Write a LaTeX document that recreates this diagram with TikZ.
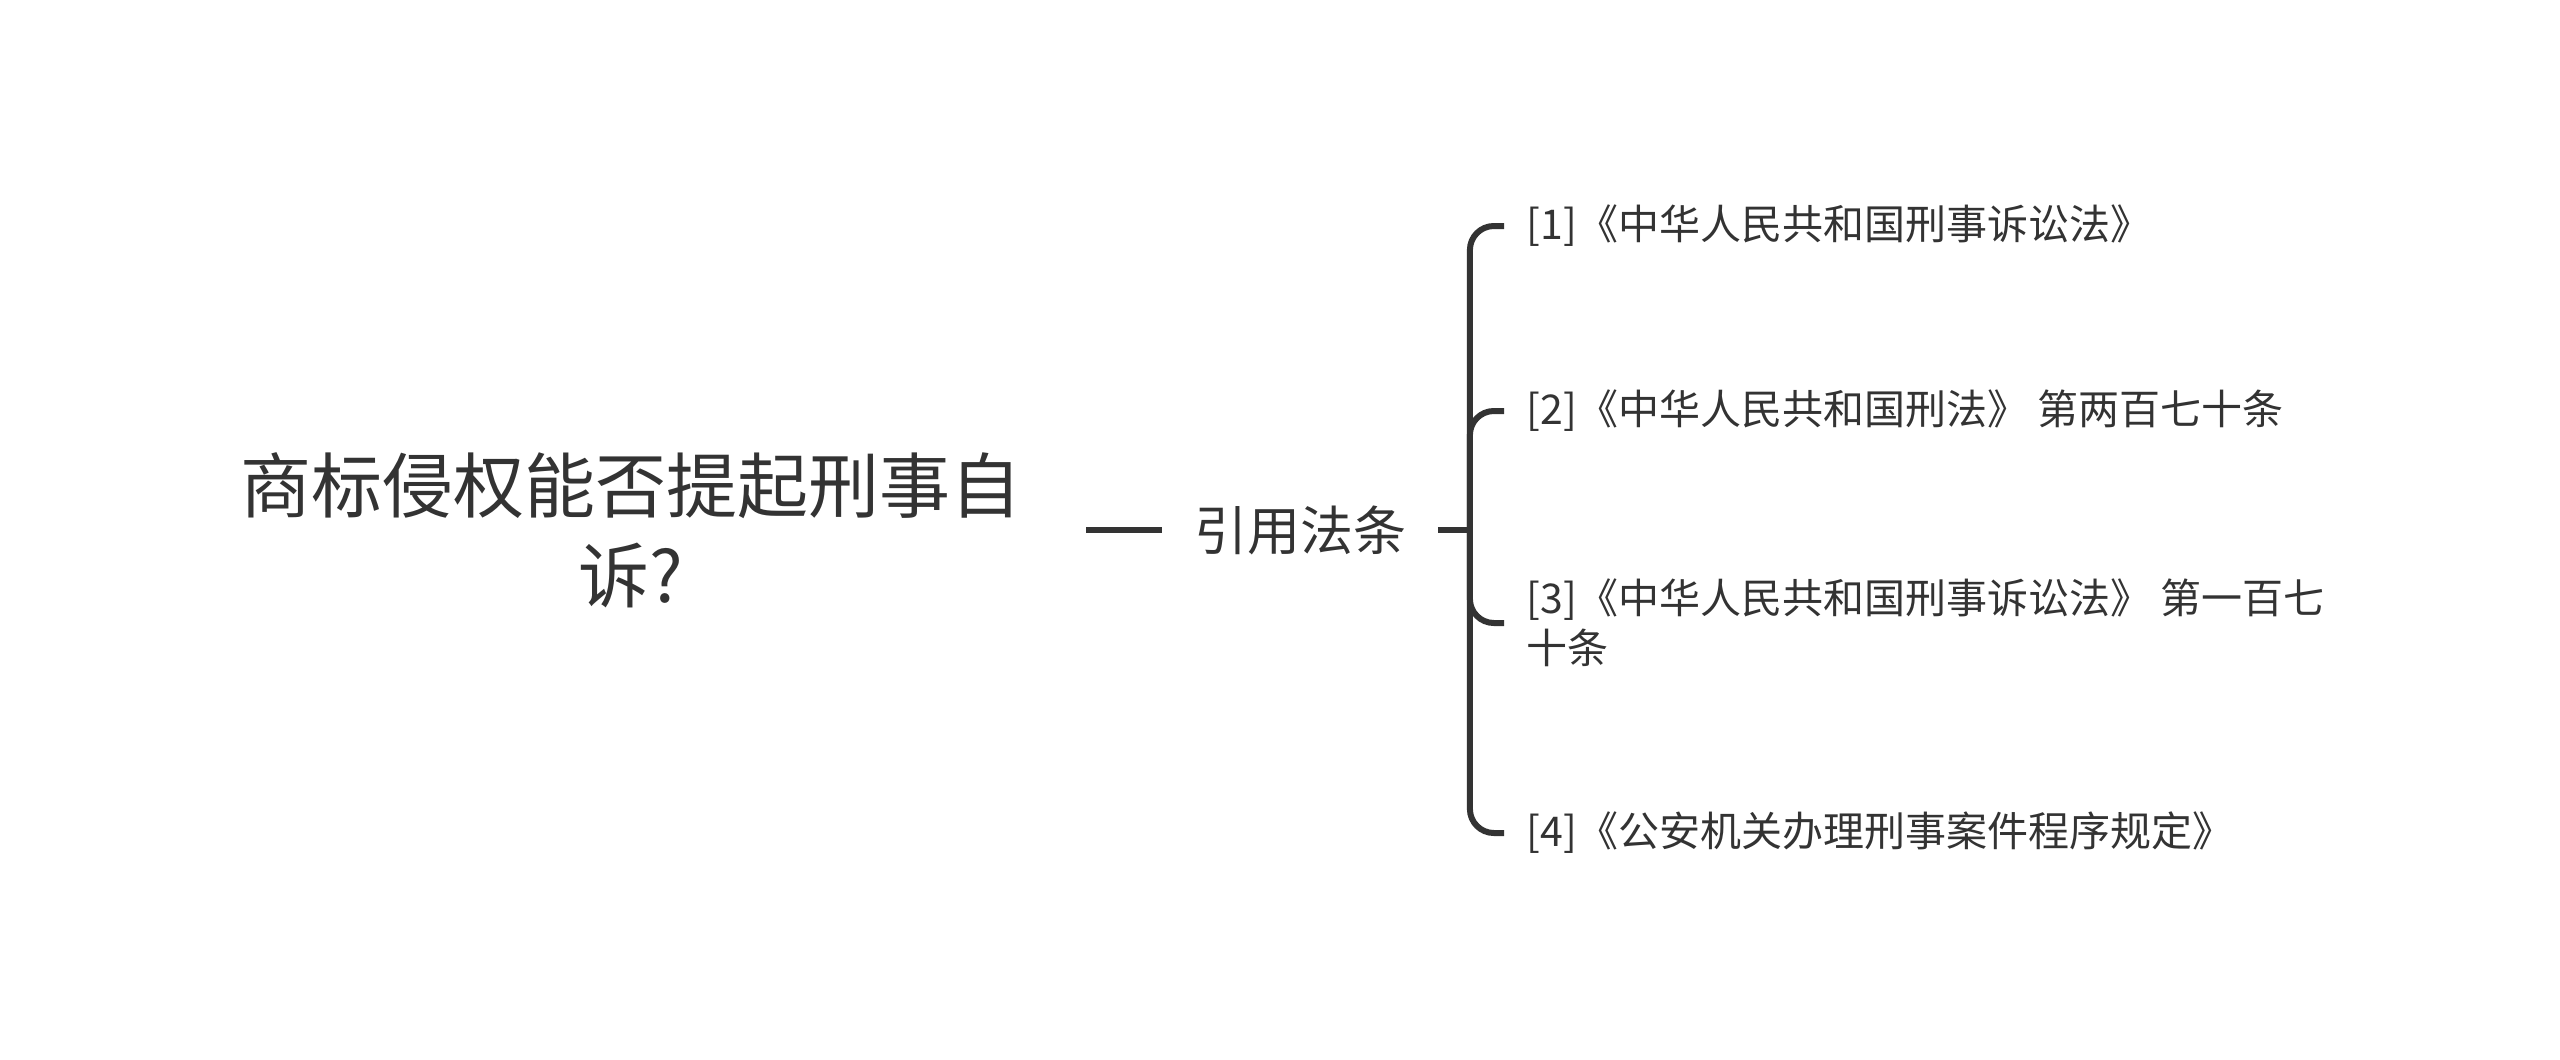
\documentclass[tikz,border=0pt]{standalone}
\usepackage{fontspec}
\setmainfont{Noto Sans CJK SC}
\usepackage{xcolor}
\usepackage{tikz}
\usetikzlibrary{positioning}

\definecolor{inkgray}{HTML}{333333}

\begin{document}
\begin{tikzpicture}[
  x=0.25pt, y=-0.25pt,
  every node/.style={align=center, text=inkgray},
  rootnode/.style={inner xsep=16pt, inner ysep=4pt,
                   font=\fontsize{17.75pt}{22.5pt}\selectfont},
  topic/.style   ={inner xsep=7.75pt, inner ysep=4pt,
                   font=\fontsize{13.25pt}{16pt}\selectfont},
  leaf/.style    ={anchor=west, align=left, inner xsep=5.5pt, inner ysep=3pt,
                   font=\fontsize{10.25pt}{12.5pt}\selectfont},
  link/.style    ={draw=inkgray, line width=1.5pt},
  branch/.style  ={link, rounded corners=6pt},
]
\useasboundingbox (0,0) rectangle (2560,1060);

% ---- root and first-level topic --------------------------------------------
\node[rootnode]                 (root) at (631,530) {商标侵权能否提起刑事自\\诉?};
\node[topic, right=19pt of root] (cite) {引用法条};
\draw[link] (root) -- (cite);

% ---- cited laws --------------------------------------------------------------
\node[leaf]                                        (law1) at (1504,226)
  {[1]《中华人民共和国刑事诉讼法》};
\node[leaf, below=46.25pt of law1.west, anchor=west] (law2)
  {[2]《中华人民共和国刑法》 第两百七十条};
\node[leaf, below=53pt of law2.west, anchor=west]    (law3)
  {[3]《中华人民共和国刑事诉讼法》 第一百七\\十条};
\node[leaf, below=52.5pt of law3.west, anchor=west]  (law4)
  {[4]《公安机关办理刑事案件程序规定》};

% ---- bracket: fork on the right of the topic, one rounded elbow per law
\coordinate[right=8pt of cite.east] (fork);
\draw[link] (cite) -- (fork);
\draw[branch] (fork) |- (law1.west);
\draw[branch] (fork) |- (law2.west);
\draw[branch] (fork) |- (law3.west);
\draw[branch] (fork) |- (law4.west);
\end{tikzpicture}
\end{document}
